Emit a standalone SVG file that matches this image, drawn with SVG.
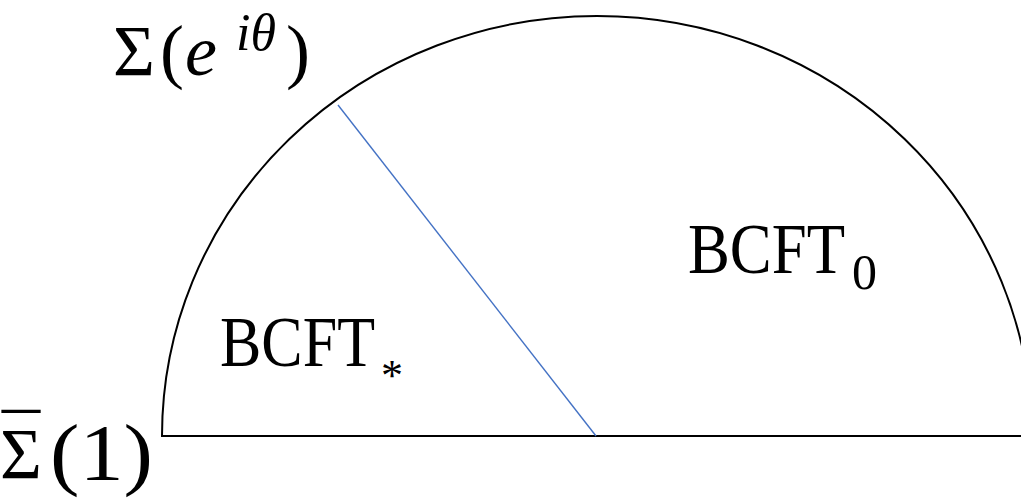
<svg xmlns="http://www.w3.org/2000/svg" width="1021" height="503" viewBox="0 0 1021 503">
<style>
.t{font-family:"Liberation Serif","Times New Roman",serif;fill:#000}
.it{font-style:italic}
.edge{fill:none;stroke:#000;stroke-width:2}
</style>
<rect width="1021" height="503" fill="#fff"/>
<g id="shape">
<path class="edge" d="M162,436 A435,420 0 0 1 1032,436 Z"/>
</g>
<g id="connectors">
<line x1="338" y1="105" x2="596" y2="436" stroke="#4472C4" stroke-width="1.4"/>
</g>
<g id="label-top">
<text class="t" font-size="72" y="75"><tspan x="113">Σ</tspan><tspan x="160">(</tspan><tspan x="185" class="it">e</tspan><tspan x="286">)</tspan></text>
<text class="t it" font-size="52" y="50"><tspan x="236">iθ</tspan></text>
</g>
<g id="label-bottom">
<text class="t" font-size="72" x="0" y="478">Σ</text>
<text class="t" font-size="72" x="2" y="464" textLength="38" lengthAdjust="spacingAndGlyphs">¯</text>
<text class="t" font-size="80" x="50" y="480" textLength="103" lengthAdjust="spacingAndGlyphs">(1)</text>
</g>
<g id="region-star">
<text class="t" font-size="72" x="220" y="366" textLength="155" lengthAdjust="spacingAndGlyphs">BCFT</text>
<text class="t" font-size="44" x="381" y="390">*</text>
</g>
<g id="region-zero">
<text class="t" font-size="72" x="688" y="273" textLength="157" lengthAdjust="spacingAndGlyphs">BCFT</text>
<text class="t" font-size="50" x="852" y="289">0</text>
</g>
</svg>
